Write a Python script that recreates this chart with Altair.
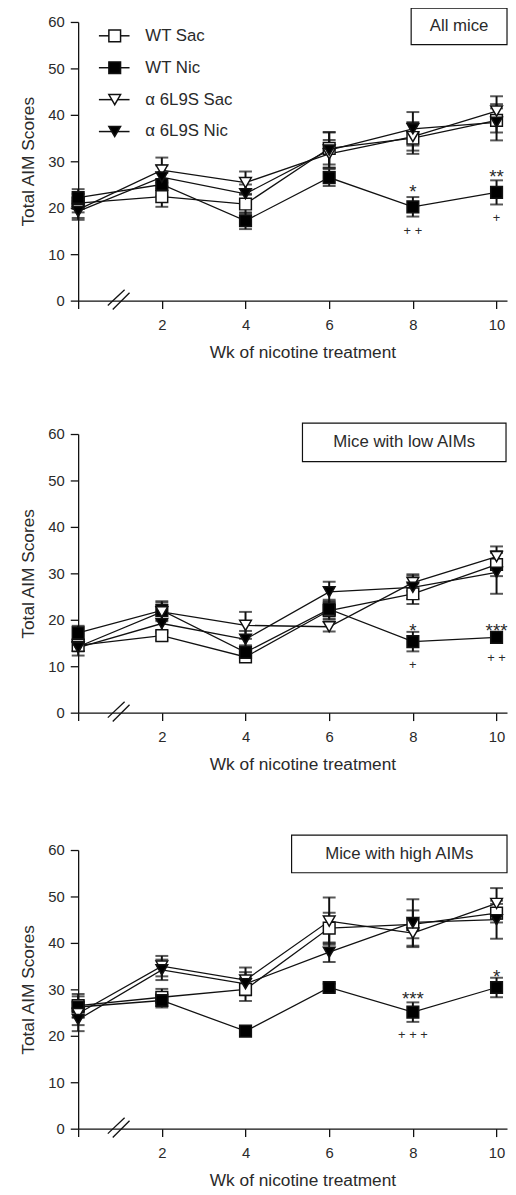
import altair as alt
import pandas as pd

weeks = [0, 2, 4, 6, 8, 10]
series = ["WT Sac", "WT Nic", "α 6L9S Sac", "α 6L9S Nic"]
shapes = ["square", "square", "triangle-down", "triangle-down"]
fills = ["white", "black", "white", "black"]

# Panel 1: All mice
all_wt_sac = [21.0, 22.4, 20.8, 32.8, 35.0, 38.8]
all_wt_sac_err = [2.0, 2.2, 2.0, 3.5, 3.4, 2.6]
all_wt_nic = [22.2, 25.0, 17.2, 26.5, 20.2, 23.3]
all_wt_nic_err = [1.8, 2.5, 1.8, 1.8, 2.1, 2.6]
all_a6_sac = [19.6, 28.1, 25.4, 31.6, 35.3, 40.8]
all_a6_sac_err = [1.8, 2.7, 2.4, 3.0, 3.0, 3.2]
all_a6_nic = [19.2, 26.6, 23.0, 32.4, 37.0, 38.4]
all_a6_nic_err = [1.8, 2.5, 2.0, 3.8, 3.6, 3.9]
all_ann_week = [8, 8, 10, 10]
all_ann_text = ["*", "+ +", "**", "+"]
all_ann_y = [24.4, 15.2, 27.7, 17.9]

# Panel 2: Mice with low AIMs
low_wt_sac = [14.5, 16.6, 12.0, 22.0, 25.6, 31.9]
low_wt_sac_err = [1.2, 1.0, 1.0, 2.0, 2.2, 2.5]
low_wt_nic = [17.2, 22.0, 13.0, 22.3, 15.3, 16.2]
low_wt_nic_err = [1.5, 2.0, 1.5, 2.0, 2.1, 1.0]
low_a6_sac = [14.2, 21.7, 18.8, 18.5, 28.0, 33.6]
low_a6_sac_err = [1.0, 2.0, 2.9, 1.0, 1.8, 2.2]
low_a6_nic = [14.0, 19.2, 15.8, 26.0, 27.0, 30.2]
low_a6_nic_err = [1.7, 2.0, 1.8, 2.2, 2.5, 4.6]
low_ann_week = [8, 8, 10, 10]
low_ann_text = ["*", "+", "***", "+ +"]
low_ann_y = [18.7, 10.5, 18.7, 12.0]

# Panel 3: Mice with high AIMs
high_wt_sac = [26.5, 28.3, 30.0, 43.2, 44.0, 46.4]
high_wt_sac_err = [2.5, 1.8, 2.5, 3.3, 3.0, 2.0]
high_wt_nic = [26.2, 27.6, 21.0, 30.4, 25.1, 30.4]
high_wt_nic_err = [2.3, 1.5, 0.6, 0.8, 2.1, 2.1]
high_a6_sac = [24.8, 35.0, 32.0, 44.7, 42.1, 48.5]
high_a6_sac_err = [2.5, 2.2, 2.7, 5.1, 3.0, 3.3]
high_a6_nic = [23.5, 34.2, 31.2, 38.0, 44.4, 45.0]
high_a6_nic_err = [2.5, 2.2, 2.5, 2.1, 5.0, 4.1]
high_ann_week = [8, 8, 10]
high_ann_text = ["***", "+ + +", "*"]
high_ann_y = [28.9, 20.4, 33.7]

FONT = "Liberation Sans"
INK = "#111111"
TXT = "#2a2a2a"
W, H = 434, 282


def make_panel(vals, errs, ann_w, ann_t, ann_y, label, box, legend=False):
    rows = []
    for s, v, e in zip(series, vals, errs):
        for w, a, b in zip(weeks, v, e):
            rows.append({"week": w, "value": a, "lo": a - b, "hi": a + b, "series": s})
    df = pd.DataFrame(rows)
    ann = pd.DataFrame({"week": ann_w, "label": ann_t, "value": ann_y})

    xs = alt.Scale(domain=[0, 10.25], nice=False, zero=False)
    ys = alt.Scale(domain=[0, 60], nice=False)
    xaxis = alt.Axis(values=[0, 2, 4, 6, 8, 10], labelExpr="datum.value == 0 ? '' : datum.label",
                     title="Wk of nicotine treatment", grid=False, tickSize=8, labelPadding=9,
                     titlePadding=12, titleX=227)
    yaxis = alt.Axis(values=[0, 10, 20, 30, 40, 50, 60], title="Total AIM Scores", grid=False,
                     tickSize=8, labelPadding=6, titlePadding=10)
    x = alt.X("week:Q", scale=xs, axis=xaxis)

    def Y(field):
        return alt.Y(field, type="quantitative", scale=ys, axis=yaxis)

    base = alt.Chart(df)
    err_rule = base.mark_rule(color=INK, strokeWidth=2).encode(
        x=x, y=Y("lo"), y2="hi:Q", detail="series:N")
    cap_hi = base.mark_tick(color=INK, orient="horizontal", size=13, thickness=2).encode(
        x=x, y=Y("hi"))
    cap_lo = base.mark_tick(color=INK, orient="horizontal", size=13, thickness=2).encode(
        x=x, y=Y("lo"))
    lines = base.mark_line(color=INK, strokeWidth=1.3).encode(
        x=x, y=Y("value"), detail="series:N")
    pts = base.mark_point(filled=True, size=140, stroke=INK, strokeWidth=1.5, opacity=1).encode(
        x=x, y=Y("value"),
        shape=alt.Shape("series:N", scale=alt.Scale(domain=series, range=shapes), legend=None),
        fill=alt.Fill("series:N", scale=alt.Scale(domain=series, range=fills), legend=None))

    abase = alt.Chart(ann).transform_calculate(star="indexof(datum.label, '*') >= 0")
    stars = abase.transform_filter("datum.star").mark_text(
        font=FONT, fontSize=19, color=TXT, baseline="alphabetic", dy=11).encode(
        x=x, y=Y("value"), text="label:N")
    plus = abase.transform_filter("!datum.star").mark_text(
        font=FONT, fontSize=13, color=TXT, baseline="alphabetic", dy=5).encode(
        x=x, y=Y("value"), text="label:N")

    one = pd.DataFrame({"k": [0]})
    bx0, bx1, by0, by1 = box
    rect = alt.Chart(one).mark_rect(fill="white", stroke=INK, strokeWidth=1.2).encode(
        x=alt.value(bx0), x2=alt.value(bx1), y=alt.value(by0), y2=alt.value(by1))
    btxt = alt.Chart(one).mark_text(font=FONT, fontSize=17, color=TXT, baseline="middle",
                                    align="center").encode(
        x=alt.value((bx0 + bx1) / 2), y=alt.value((by0 + by1) / 2), text=alt.value(label))

    brk1 = alt.Chart(one).mark_rule(color=INK, strokeWidth=1.3).encode(
        x=alt.value(30), x2=alt.value(47), y=alt.value(H + 5), y2=alt.value(H - 11))
    brk2 = alt.Chart(one).mark_rule(color=INK, strokeWidth=1.3).encode(
        x=alt.value(35), x2=alt.value(52), y=alt.value(H + 9), y2=alt.value(H - 8))

    layers = [err_rule, cap_hi, cap_lo, lines, pts, stars, plus, rect, btxt, brk1, brk2]

    if legend:
        for i, (s, sh, fl) in enumerate(zip(series, shapes, fills)):
            ly = 14 + 32.3 * i
            layers.append(alt.Chart(one).mark_rule(color=INK, strokeWidth=1.5).encode(
                x=alt.value(21), x2=alt.value(52), y=alt.value(ly)))
            layers.append(alt.Chart(one).mark_point(filled=True, size=140, stroke=INK,
                                                    strokeWidth=1.5, opacity=1).encode(
                x=alt.value(37), y=alt.value(ly), shape=alt.value(sh), fill=alt.value(fl)))
            layers.append(alt.Chart(one).mark_text(font=FONT, fontSize=17, color=TXT,
                                                   baseline="middle", align="left").encode(
                x=alt.value(68), y=alt.value(ly), text=alt.value(s)))

    return alt.layer(*layers).properties(width=W, height=H)


p1 = make_panel([all_wt_sac, all_wt_nic, all_a6_sac, all_a6_nic],
                [all_wt_sac_err, all_wt_nic_err, all_a6_sac_err, all_a6_nic_err],
                all_ann_week, all_ann_text, all_ann_y, "All mice", (337, 434, -14, 23), legend=True)
p2 = make_panel([low_wt_sac, low_wt_nic, low_a6_sac, low_a6_nic],
                [low_wt_sac_err, low_wt_nic_err, low_a6_sac_err, low_a6_nic_err],
                low_ann_week, low_ann_text, low_ann_y, "Mice with low AIMs", (227, 433, -11, 28))
p3 = make_panel([high_wt_sac, high_wt_nic, high_a6_sac, high_a6_nic],
                [high_wt_sac_err, high_wt_nic_err, high_a6_sac_err, high_a6_nic_err],
                high_ann_week, high_ann_text, high_ann_y, "Mice with high AIMs", (216, 434, -15, 23))

chart = alt.vconcat(p1, p2, p3, spacing=61).properties(
    padding={"left": 12, "top": -8, "right": 0, "bottom": 0}
).configure_view(stroke=None).configure_axis(
    labelFont=FONT, titleFont=FONT, labelFontSize=15, titleFontSize=17.5,
    labelColor=TXT, titleColor=TXT, titleFontWeight="normal",
    domainColor=INK, tickColor=INK, domainWidth=1.3, tickWidth=1.3
)

chart.save("out.html", embed_options={"renderer": "svg", "actions": False})
